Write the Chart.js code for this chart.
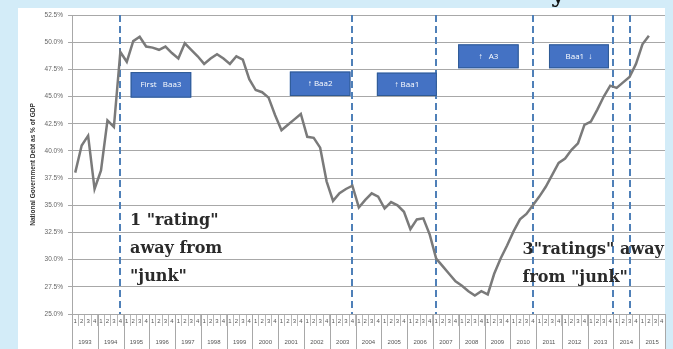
<!DOCTYPE html>
<html><head><meta charset="utf-8">
<script src="https://cdn.jsdelivr.net/npm/chart.js@4/dist/chart.umd.min.js"></script>
<style>html,body{margin:0;padding:0;background:#d3ecf8;overflow:hidden}</style>
</head><body>
<canvas id="c" width="673" height="349"></canvas>
<script>
const yearLabels = ['1993','1994','1995','1996','1997','1998','1999','2000','2001','2002','2003','2004','2005','2006','2007','2008','2009','2010','2011','2012','2013','2014','2015'];
const quarterNames = ['1','2','3','4'];
const debtPct = [
 38.0,40.5,41.4,36.5, 38.2,42.8,42.2,49.1, 48.2,50.1,50.5,49.6, 49.5,49.3,49.6,49.0,
 48.5,49.9,49.3,48.7, 48.0,48.5,48.9,48.5, 48.0,48.7,48.4,46.6, 45.6,45.4,44.9,43.3,
 41.9,42.4,42.9,43.4, 41.3,41.2,40.3,37.2, 35.4,36.1,36.5,36.8, 34.8,35.5,36.1,35.8,
 34.7,35.3,35.0,34.4, 32.8,33.7,33.8,32.3, 30.1,29.4,28.7,28.0, 27.6,27.1,26.7,27.1,
 26.8,28.7,30.1,31.3, 32.6,33.7,34.2,35.0, 35.8,36.7,37.8,38.9, 39.3,40.1,40.7,42.4,
 42.7,43.8,45.0,46.0, 45.8,46.3,46.8,48.0, 49.8,50.6,null,null
];
const ratingEventIdx = [7, 43, 56, 71, 83.5, 86];
const ratingBoxes = [
 {label:'First   Baa3', x0:8.6,  x1:18.0, y0:47.25, y1:44.9},
 {label:'\u2191 Baa2',  x0:33.3, x1:42.7, y0:47.3,  y1:45.05},
 {label:'\u2191 Baa1',  x0:46.8, x1:56.1, y0:47.2,  y1:45.05},
 {label:'\u2191   A3',  x0:59.4, x1:68.8, y0:49.8,  y1:47.6},
 {label:'Baa1  \u2193', x0:73.5, x1:82.8, y0:49.8,  y1:47.6}
];
const notes = [
 {lines:['1 "rating"','away from','"junk"'], x:8.5, y:33.2},
 {lines:['3"ratings" away','from "junk"'], x:69.4, y:30.55}
];
const quarterLabels = [];
yearLabels.forEach(() => quarterNames.forEach(q => quarterLabels.push(q)));

const GRID = '#a8a8a8';
const decor = {
  id:'decor',
  beforeDraw(chart){
    const ctx = chart.ctx;
    ctx.save();
    ctx.fillStyle = '#d3ecf8';
    ctx.fillRect(0,0,chart.width,chart.height);
    ctx.fillStyle = '#111';
    ctx.font = 'bold 24px "DejaVu Serif"';
    ctx.textBaseline = 'alphabetic';
    ctx.fillText('y', 551, 2);
    ctx.fillStyle = '#ffffff';
    ctx.fillRect(18,8,647,chart.height-8);
    ctx.restore();
  },
  beforeDatasetsDraw(chart){
    const ctx = chart.ctx, xs = chart.scales.x, a = chart.chartArea;
    ctx.save();
    ctx.strokeStyle = '#4f80b8';
    ctx.lineWidth = 2;
    ctx.setLineDash([7,4]);
    ratingEventIdx.forEach(i => {
      const px = Math.round(xs.getPixelForValue(i));
      ctx.beginPath(); ctx.moveTo(px, a.top); ctx.lineTo(px, a.bottom); ctx.stroke();
    });
    ctx.restore();
  },
  afterDatasetsDraw(chart){
    const ctx = chart.ctx, xs = chart.scales.x, ys = chart.scales.y;
    ctx.save();
    ratingBoxes.forEach(b => {
      const l = xs.getPixelForValue(b.x0), r = xs.getPixelForValue(b.x1);
      const t = ys.getPixelForValue(b.y0), btm = ys.getPixelForValue(b.y1);
      ctx.fillStyle = '#4472c4';
      ctx.fillRect(l, t, r-l, btm-t);
      ctx.strokeStyle = '#2f5a94';
      ctx.lineWidth = 1;
      ctx.strokeRect(l+0.5, t+0.5, r-l-1, btm-t-1);
      ctx.fillStyle = '#ffffff';
      ctx.font = '8px "Open Sans"';
      ctx.textAlign = 'center'; ctx.textBaseline = 'middle';
      ctx.fillText(b.label, (l+r)/2, (t+btm)/2);
    });
    ctx.fillStyle = '#2a2a2a';
    ctx.font = 'bold 16px "DejaVu Serif"';
    ctx.textAlign = 'left'; ctx.textBaseline = 'alphabetic';
    notes.forEach(n => {
      const px = xs.getPixelForValue(n.x), py = ys.getPixelForValue(n.y);
      n.lines.forEach((s, k) => ctx.fillText(s, px, py + k*28));
    });
    ctx.restore();
  },
  afterDraw(chart){
    const ctx = chart.ctx, xs = chart.scales.x, a = chart.chartArea;
    ctx.save();
    ctx.strokeStyle = GRID; ctx.lineWidth = 1;
    for (let k = 0; k <= yearLabels.length; k++) {
      const px = Math.round(xs.getPixelForValue(k*4 - 0.5)) + 0.5;
      ctx.beginPath(); ctx.moveTo(px, a.bottom); ctx.lineTo(px, chart.height); ctx.stroke();
    }
    ctx.restore();
  }
};

new Chart(document.getElementById('c'), {
  type:'line',
  data:{ labels: quarterLabels, datasets:[{
    data: debtPct, borderColor:'#7a7a7a', borderWidth:2.5, pointRadius:0, tension:0, fill:false, spanGaps:false
  }]},
  options:{
    responsive:false, animation:false, devicePixelRatio:1,
    layout:{ padding:{left:0,right:8,top:15,bottom:0} },
    plugins:{ legend:{display:false}, tooltip:{enabled:false} },
    scales:{
      y:{
        min:25, max:52.5,
        ticks:{ stepSize:2.5, callback:v => v.toFixed(1)+'%', font:{size:6.5, family:'"Liberation Sans"'}, color:'#666', padding:5 },
        grid:{ color:GRID, tickLength:4 },
        border:{ color:GRID },
        title:{ display:true, text:'National Government Debt as % of GDP', font:{size:6.5, weight:'bold', family:'"Liberation Sans"'}, color:'#333', padding:{top:29,bottom:0} },
        afterFit: s => { s.width = 72; }
      },
      x:{
        type:'category', position:'bottom', weight:0, offset:true,
        grid:{ display:true, drawOnChartArea:false, drawTicks:true, tickLength:12, offset:true, color:'#b8b8b8' },
        border:{ display:true, color:GRID },
        ticks:{ autoSkip:false, maxRotation:0, minRotation:0, font:{size:6, family:'"Liberation Sans"'}, color:'#555', padding:-8 },
        afterFit: s => { s.height = 14; }
      },
      x2:{
        type:'category', position:'bottom', weight:1, offset:true, labels: yearLabels,
        grid:{ display:false }, border:{ display:false },
        ticks:{ autoSkip:false, maxRotation:0, minRotation:0, font:{size:6, family:'"Liberation Sans"'}, color:'#555', padding:3 },
        afterFit: s => { s.height = 21; }
      }
    }
  },
  plugins:[decor]
});
</script>
</body></html>
